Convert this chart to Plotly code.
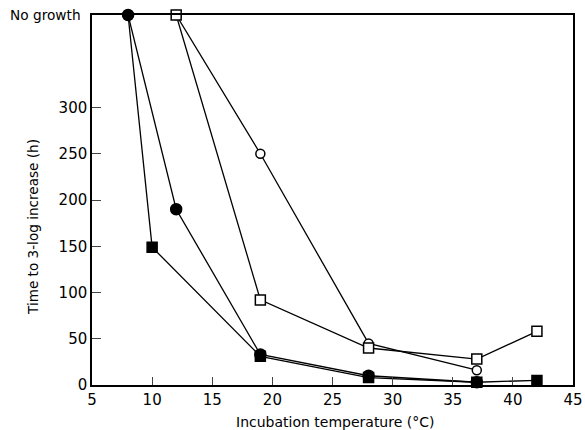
import plotly.graph_objects as go

# Data (No growth plotted at 400)
temp_filled_circle = [8, 12, 19, 28, 37]
time_filled_circle = [400, 190, 33, 10, 3]

temp_filled_square = [8, 10, 19, 28, 37, 42]
time_filled_square = [400, 149, 31, 8, 3, 5]

temp_open_circle = [12, 19, 28, 37]
time_open_circle = [400, 250, 45, 16]

temp_open_square = [12, 19, 28, 37, 42]
time_open_square = [400, 92, 40, 28, 58]

x_ticks = [5, 10, 15, 20, 25, 30, 35, 40, 45]
y_ticks = [0, 50, 100, 150, 200, 250, 300, 400]
y_ticklabels = ["0", "50", "100", "150", "200", "250", "300", ""]
no_growth_label = "No growth"
no_growth_value = 400

FONT = "DejaVu Sans"
fig = go.Figure()

# the filled-square series shares its "No growth" point with the filled circles
filled_square_symbols = ["circle", "square", "square", "square", "square", "square"]

series = [
    (temp_open_circle, time_open_circle, "circle", 9, "white"),
    (temp_open_square, time_open_square, "square", 10, "white"),
    (temp_filled_square, time_filled_square, filled_square_symbols, 10, "black"),
    (temp_filled_circle, time_filled_circle, "circle", 11, "black"),
]
for xs, ys, sym, sz, fill in series:
    fig.add_trace(go.Scatter(
        x=xs, y=ys, mode="lines+markers",
        line=dict(color="black", width=1.3),
        marker=dict(symbol=sym, size=sz, color=fill,
                    line=dict(color="black", width=1.5)),
        cliponaxis=False, showlegend=False,
    ))

fig.update_layout(
    width=585, height=430,
    margin=dict(l=92, r=12, t=15, b=45, autoexpand=False),
    paper_bgcolor="white", plot_bgcolor="white",
    font=dict(family=FONT, color="black", size=15),
)
fig.update_xaxes(
    range=[5, 45], tickvals=x_ticks, ticks="inside", ticklen=8, tickwidth=1.3,
    showline=True, linecolor="black", linewidth=1.5, mirror=True,
    showgrid=False, zeroline=False, automargin=False,
    tickfont=dict(size=15),
)
fig.update_yaxes(
    range=[0, 400], tickvals=y_ticks, ticktext=y_ticklabels,
    ticks="inside", ticklen=9, tickwidth=1.3,
    showline=True, linecolor="black", linewidth=1.5, mirror=True,
    showgrid=False, zeroline=False, automargin=False,
    tickfont=dict(size=15),
)
fig.add_annotation(
    text=no_growth_label, xref="paper", yref="y", x=0, y=no_growth_value,
    xanchor="right", yanchor="middle", xshift=-9, showarrow=False,
    font=dict(size=13.7),
)
fig.add_annotation(
    text="Incubation temperature (°C)", xref="paper", yref="paper",
    x=0.505, y=-0.1, xanchor="center", yanchor="middle", showarrow=False,
    font=dict(size=14),
)
fig.add_annotation(
    text="Time to 3-log increase (h)", xref="paper", yref="paper",
    x=-0.1227, y=0.427, xanchor="center", yanchor="middle", showarrow=False,
    textangle=-90, font=dict(size=13.6),
)
fig.write_html("out.html")
